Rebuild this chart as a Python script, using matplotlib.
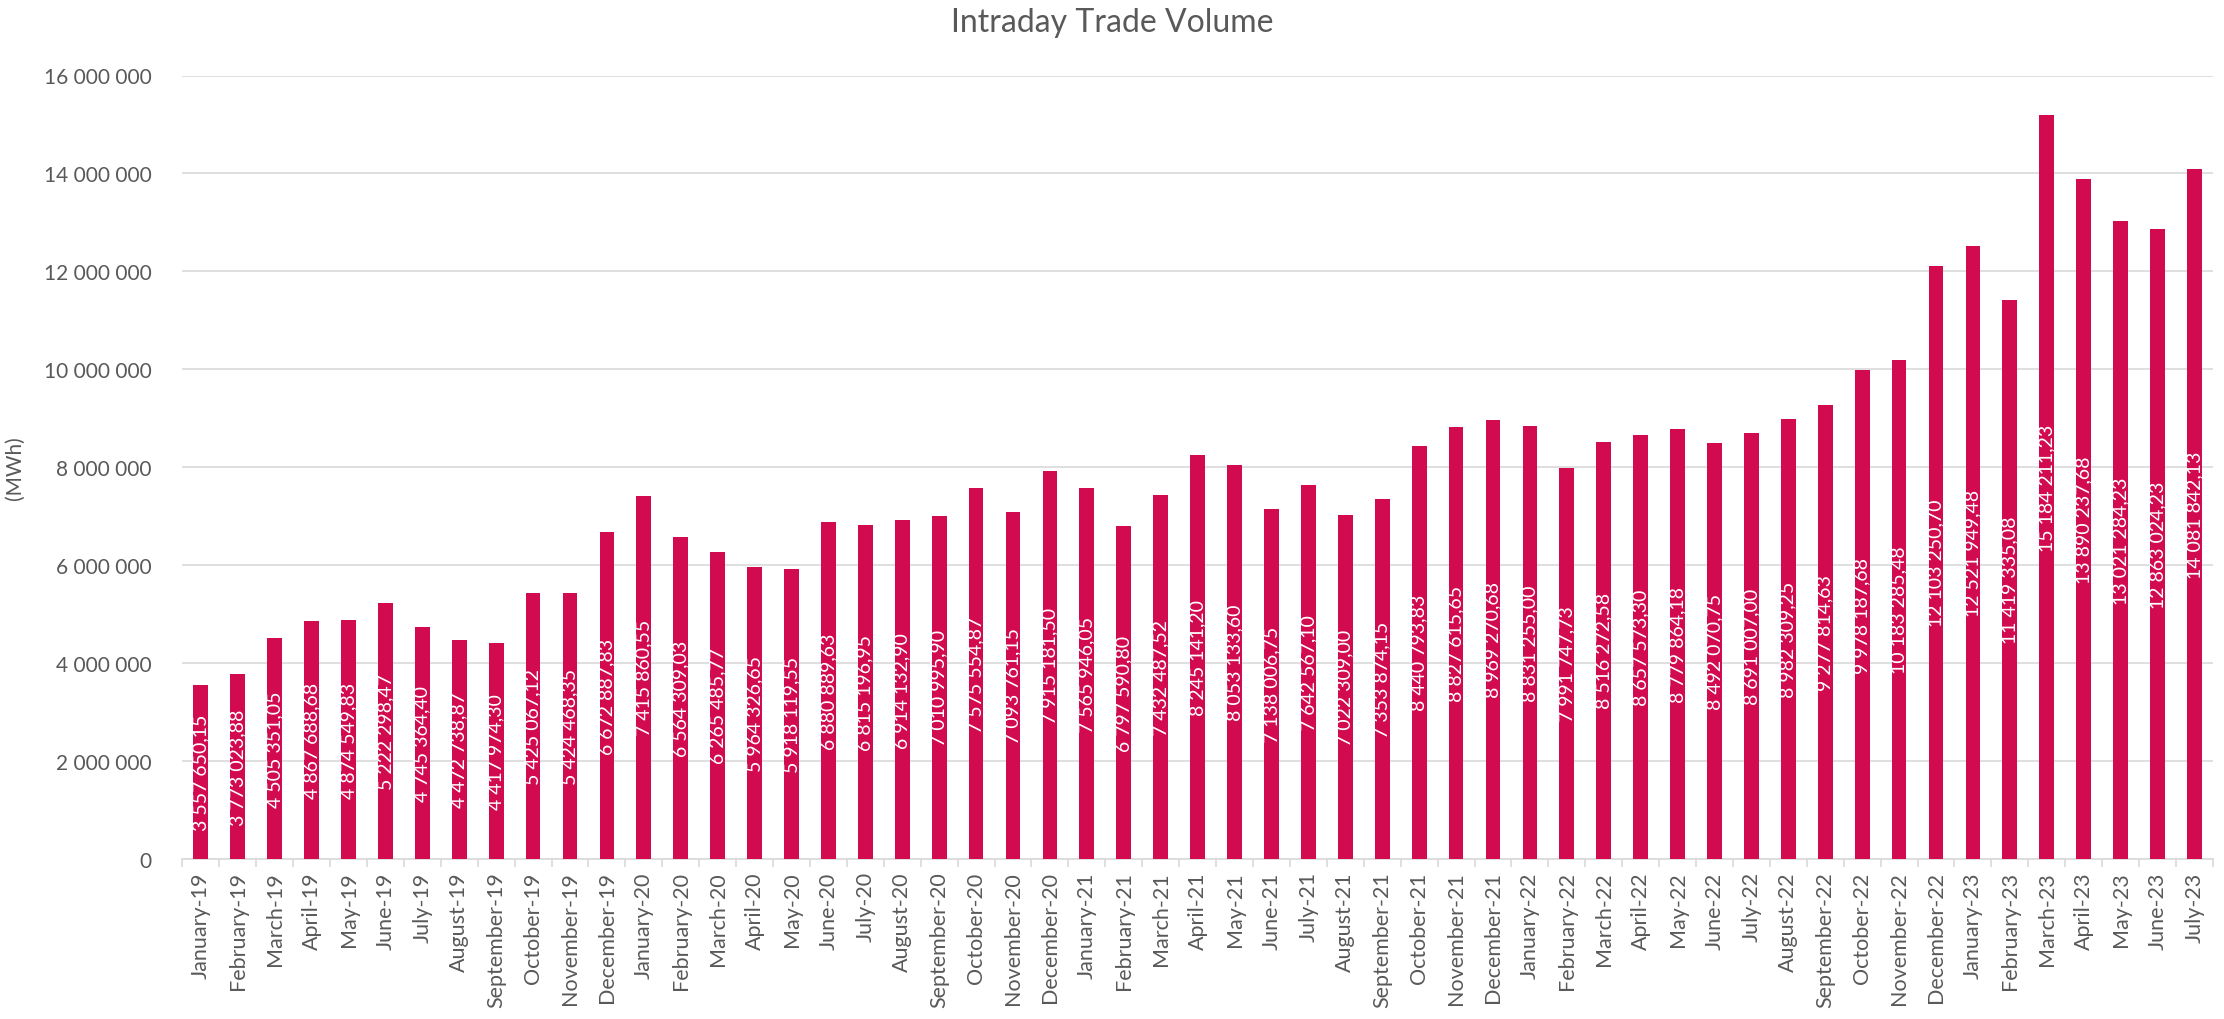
import matplotlib
matplotlib.use("Agg")
import matplotlib.pyplot as plt
from matplotlib.ticker import FuncFormatter, FixedLocator, NullFormatter
import numpy as np

plt.rcParams['font.family'] = ['Lato', 'DejaVu Sans']

months = ["January", "February", "March", "April", "May", "June", "July",
          "August", "September", "October", "November", "December"]
labels = []
for yr in range(19, 24):
    for m in months:
        labels.append("{}-{}".format(m, yr))
labels = labels[:55]  # January-19 .. July-23

volume = [
    3557650.15, 3773023.88, 4505351.05, 4867688.68, 4874549.83, 5222298.47,
    4745364.40, 4472738.87, 4417974.30, 5425067.12, 5424468.35, 6672887.83,
    7415860.55, 6564309.03, 6265485.77, 5964326.65, 5918119.55, 6880889.63,
    6815196.95, 6914132.90, 7010995.90, 7575554.87, 7093761.15, 7915181.50,
    7565946.05, 6797590.80, 7432487.52, 8245141.20, 8053133.60, 7138006.75,
    7642567.10, 7022309.00, 7353874.15, 8440793.83, 8827615.65, 8969270.68,
    8831255.00, 7991747.73, 8516272.58, 8657573.30, 8779864.18, 8492070.75,
    8691007.00, 8982309.25, 9277814.63, 9978187.68, 10183285.48, 12103250.70,
    12521949.48, 11419335.08, 15184211.23, 13890237.68, 13021284.23, 12863024.23,
    14081842.13,
]

bar_color = "#D20A50"
grey = "#595959"


def fmt_thousands(v, _=None):
    return "{:,.0f}".format(v).replace(",", " ")


def fmt_label(v):
    s = "{:,.2f}".format(v)
    return s.replace(",", " ").replace(".", ",")


fig = plt.figure(figsize=(22.24, 10.2), dpi=100)
ax = fig.add_axes([0.082, 0.157, 0.913, 0.768])

x = np.arange(len(volume))
bars = ax.bar(x, volume, width=0.4, color=bar_color, zorder=3)

for xi, v in zip(x, volume):
    ax.text(xi, v / 2, fmt_label(v), rotation=90, ha="center", va="center",
            color="white", fontsize=14, zorder=4)

ax.set_xlim(-0.5, len(volume) - 0.5)
ax.set_ylim(0, 16000000)
ax.set_yticks(np.arange(0, 16000001, 2000000))
ax.yaxis.set_major_formatter(FuncFormatter(fmt_thousands))
ax.grid(axis="y", color="#D9D9D9", linewidth=1.2, zorder=0)

ax.set_xticks(x)
ax.set_xticklabels(labels, rotation=90, fontsize=15.5, color=grey)
ax.tick_params(axis="x", which="major", length=0, pad=9)
ax.xaxis.set_minor_locator(FixedLocator(np.arange(-0.5, len(volume), 1)))
ax.xaxis.set_minor_formatter(NullFormatter())
ax.tick_params(axis="x", which="minor", length=6, color="#D9D9D9", width=1.2)
ax.tick_params(axis="y", length=0, labelsize=15, labelcolor=grey, pad=22)

for side in ["top", "right", "left"]:
    ax.spines[side].set_visible(False)
ax.spines["bottom"].set_color("#D9D9D9")
ax.spines["bottom"].set_linewidth(1.2)

ax.set_ylabel("(MWh)", fontsize=15, color=grey, labelpad=14)
fig.text(0.5, 1 - 23 / 1020, "Intraday Trade Volume", fontsize=23, color=grey,
         ha="center", va="center")

fig.savefig("out.png", dpi=100)
